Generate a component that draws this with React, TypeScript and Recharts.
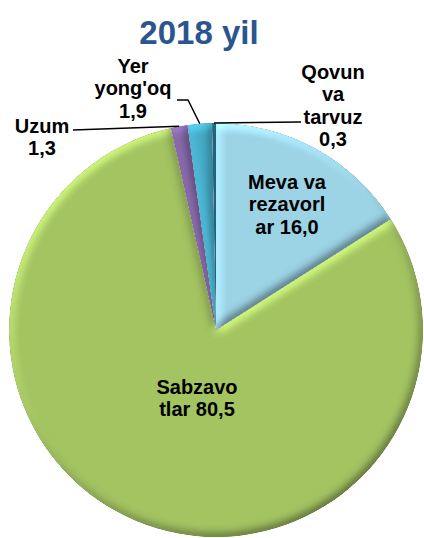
import React from "react";
import { PieChart, Pie, Cell } from "recharts";

// ---- data ----
const categories = ["Meva va rezavorlar", "Sabzavotlar", "Uzum", "Yer yong'oq", "Qovun va tarvuz"];
const shares = [16.0, 80.5, 1.3, 1.9, 0.3];
// how each category name is wrapped in its label (value is appended after)
const nameLines = [["Meva va", "rezavorl", "ar"], ["Sabzavo", "tlar"], ["Uzum"], ["Yer", "yong'oq"], ["Qovun", "va", "tarvuz"]];
const valueOnSameLine = [true, true, false, false, false];
const title = "2018 yil";

// ---- styles / layout ----
const colors = ["#9CD3E6", "#A4C462", "#8064A2", "#45AAC6", "#1F6680"];
const CX = 216;
const CY = 330;
const R = 207;
const FONT = "'Liberation Sans', Arial, sans-serif";
const LABEL_SIZE = 20;
const LINE_GAP = 22.3;
// first-line centre of each label relative to pie centre
const labelOffsets = [
  { dx: 71, dy: -148 },
  { dx: -19, dy: 57 },
  { dx: -174, dy: -204 },
  { dx: -83, dy: -264 },
  { dx: 117, dy: -258 },
];
// leader line points (relative to pie centre), ending on the slice edge
const leaderPoints: { dx: number; dy: number }[][] = [
  [],
  [],
  [{ dx: -143, dy: -200 }],
  [{ dx: -39, dy: -230 }, { dx: -28, dy: -230 }],
  [{ dx: 85, dy: -208 }],
];

const fmt = (v: number) => v.toFixed(1).replace(".", ",");

const data = categories.map((name, i) => ({ name, value: shares[i] }));

const RAD = Math.PI / 180;

function renderLabel(props: any) {
  const { cx, cy, midAngle, outerRadius, index } = props;
  const lines = [...nameLines[index]];
  if (valueOnSameLine[index]) {
    lines[lines.length - 1] = lines[lines.length - 1] + " " + fmt(shares[index]);
  } else {
    lines.push(fmt(shares[index]));
  }
  const off = labelOffsets[index];
  const x = cx + off.dx;
  const y0 = cy + off.dy;
  const pts = leaderPoints[index];
  let poly: string | null = null;
  if (pts.length) {
    const ex = cx + Math.cos(-midAngle * RAD) * outerRadius;
    const ey = cy + Math.sin(-midAngle * RAD) * outerRadius;
    poly = pts.map((p) => `${cx + p.dx},${cy + p.dy}`).join(" ") + ` ${ex},${ey}`;
  }
  return (
    <g key={`lbl-${index}`}>
      {poly && <polyline points={poly} fill="none" stroke="#000" strokeWidth={1.4} />}
      <text
        x={x}
        y={y0}
        textAnchor="middle"
        fontFamily={FONT}
        fontSize={LABEL_SIZE}
        fontWeight="bold"
        fill="#000"
      >
        {lines.map((l, j) => (
          <tspan key={j} x={x} y={y0 + j * LINE_GAP + 7}>
            {l}
          </tspan>
        ))}
      </text>
    </g>
  );
}

export default function App() {
  return (
    <div style={{ position: "absolute", left: 0, top: 0, width: 424, height: 538, background: "#fff" }}>
      <svg width={0} height={0} style={{ position: "absolute" }}>
        <defs>
          <filter
            id="bevel"
            filterUnits="userSpaceOnUse"
            x="0"
            y="0"
            width="424"
            height="538"
            colorInterpolationFilters="sRGB"
          >
            <feGaussianBlur in="SourceAlpha" stdDeviation="5" result="blur" />
            <feDiffuseLighting in="blur" surfaceScale="2.2" diffuseConstant="1" lightingColor="#ffffff" result="diff">
              <feDistantLight azimuth="235" elevation="42" />
            </feDiffuseLighting>
            <feComposite in="SourceGraphic" in2="diff" operator="arithmetic" k1="1.1" k2="0.26" k3="0" k4="0" result="lit" />
            <feComposite in="lit" in2="SourceAlpha" operator="in" />
          </filter>
        </defs>
      </svg>
      <PieChart width={424} height={538} margin={{ top: 0, right: 0, bottom: 0, left: 0 }}>
        <Pie
          data={data}
          dataKey="value"
          nameKey="name"
          cx={CX}
          cy={CY}
          outerRadius={R}
          startAngle={90}
          endAngle={-270}
          stroke="none"
          label={renderLabel}
          labelLine={false}
          isAnimationActive={false}
        >
          {data.map((d, i) => (
            <Cell key={d.name} fill={colors[i]} filter="url(#bevel)" />
          ))}
        </Pie>
      </PieChart>
      <svg width={424} height={538} style={{ position: "absolute", left: 0, top: 0, pointerEvents: "none" }}>
        <text x={199} y={44} textAnchor="middle" fontFamily={FONT} fontSize={33} fontWeight="bold" fill="#2A5590">
          {title}
        </text>
      </svg>
    </div>
  );
}
